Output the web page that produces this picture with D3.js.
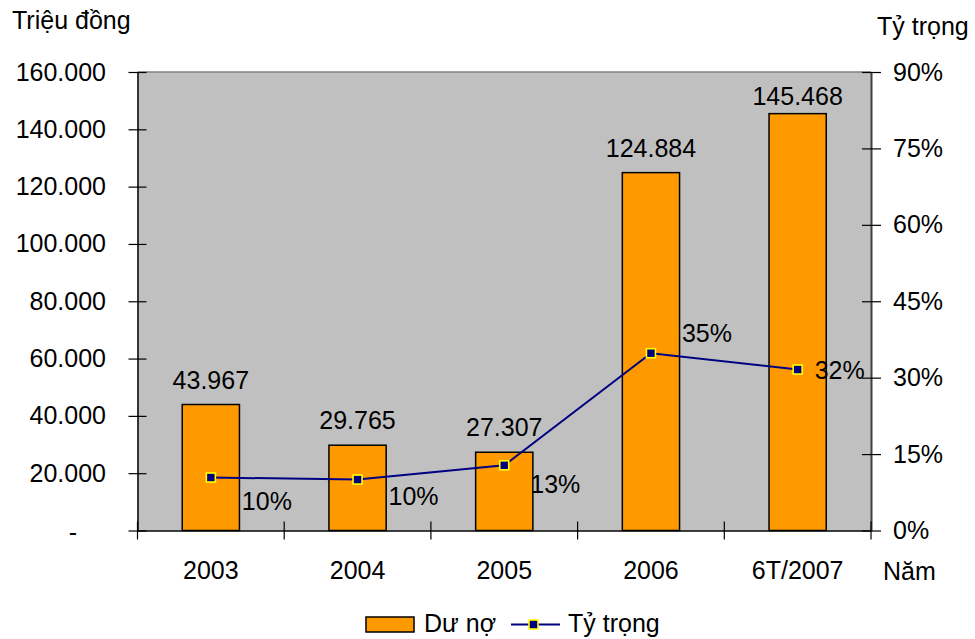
<!DOCTYPE html>
<html>
<head>
<meta charset="utf-8">
<script src="https://cdn.jsdelivr.net/npm/d3@7"></script>
<style>
  html, body { margin: 0; padding: 0; background: #fff; }
  svg text { font-family: "Liberation Sans", Arial, sans-serif; fill: #000; }
</style>
</head>
<body>
<svg id="chart" width="975" height="639"></svg>
<script>
// ---- data ----
const categories = ["2003", "2004", "2005", "2006", "6T/2007"];
const duNo = [43967, 29765, 27307, 124884, 145468];          // Dư nợ (triệu đồng)
const tyTrong = [10.4, 10.0, 12.8, 34.8, 31.6];             // Tỷ trọng (%)
const tyTrongLabels = ["10%", "10%", "13%", "35%", "32%"];
const leftTicks = [0, 20000, 40000, 60000, 80000, 100000, 120000, 140000, 160000];
const rightTicks = [0, 15, 30, 45, 60, 75, 90];

// label offsets for percentage labels (layout, px)
const pctLabelDx = [31, 31, 26, 31, 17];
const pctLabelDy = [32, 25, 28, -11, 9];

const W = 975, H = 639;
const margin = { left: 137.5, right: 975 - 871, top: 72, bottom: 639 - 530.5 };
const svg = d3.select("#chart");
const FS = 25;

const x = d3.scaleBand().domain(categories).range([margin.left, W - margin.right]).paddingInner(0).paddingOuter(0);
const yL = d3.scaleLinear().domain([0, 160000]).range([H - margin.bottom, margin.top]);
const yR = d3.scaleLinear().domain([0, 90]).range([H - margin.bottom, margin.top]);

const fmtNum = v => v === 0 ? "-" : d3.format(",")(v).replace(/,/g, ".");

// plot background
svg.append("rect")
  .attr("x", margin.left).attr("y", margin.top)
  .attr("width", W - margin.right - margin.left)
  .attr("height", H - margin.bottom - margin.top)
  .attr("fill", "#C0C0C0");
// top border
svg.append("line")
  .attr("x1", margin.left).attr("x2", W - margin.right)
  .attr("y1", margin.top).attr("y2", margin.top)
  .attr("stroke", "#808080").attr("stroke-width", 1.5);

// bars
const barW = x.bandwidth() * 0.39;
svg.append("g").selectAll("rect").data(duNo).join("rect")
  .attr("x", (d, i) => x(categories[i]) + x.bandwidth() / 2 - barW / 2)
  .attr("y", d => yL(d))
  .attr("width", barW)
  .attr("height", d => yL(0) - yL(d))
  .attr("fill", "#FF9900")
  .attr("stroke", "#000").attr("stroke-width", 1.5);

// bar labels
svg.append("g").selectAll("text").data(duNo).join("text")
  .attr("x", (d, i) => x(categories[i]) + x.bandwidth() / 2)
  .attr("y", d => Math.max(yL(d) - 16, 105))
  .attr("text-anchor", "middle")
  .attr("font-size", FS)
  .text(d => fmtNum(d));

// axes
const axL = d3.axisLeft(yL).tickValues(leftTicks).tickFormat(fmtNum).tickSizeInner(9).tickSizeOuter(0).tickPadding(22.5);
const gL = svg.append("g").attr("transform", `translate(${margin.left},0)`).call(axL);
const axR = d3.axisRight(yR).tickValues(rightTicks).tickFormat(d => d + "%").tickSizeInner(10).tickSizeOuter(0).tickPadding(12);
const gR = svg.append("g").attr("transform", `translate(${W - margin.right},0)`).call(axR);
const axB = d3.axisBottom(x).tickSize(0).tickPadding(30.5);
const gB = svg.append("g").attr("transform", `translate(0,${H - margin.bottom})`).call(axB);

[gL, gR, gB].forEach(g => {
  g.selectAll("text").attr("font-size", FS).attr("font-family", "Liberation Sans, Arial, sans-serif").attr("fill", "#000");
  g.selectAll(".tick line").attr("stroke", "#000").attr("stroke-width", 1.2);
});
// accounting-style dash for zero sits further left
gL.selectAll(".tick text").filter(d => d === 0).attr("dx", -29).attr("y", 2);
gL.select(".domain").attr("stroke", "#000").attr("stroke-width", 1.5);
gR.select(".domain").attr("stroke", "#404040").attr("stroke-width", 2);
gB.select(".domain").attr("stroke", "#000").attr("stroke-width", 1.5);
// crossing ticks on left/right axes
gL.selectAll(".tick line").attr("x1", 9);
gR.selectAll(".tick line").attr("x1", -9);
// category boundary ticks on bottom axis
const boundaries = d3.range(categories.length + 1).map(i => margin.left + i * x.bandwidth());
svg.append("g").selectAll("line").data(boundaries).join("line")
  .attr("x1", d => d).attr("x2", d => d)
  .attr("y1", H - margin.bottom - 9).attr("y2", H - margin.bottom + 9)
  .attr("stroke", "#000").attr("stroke-width", 1.2);

// line series
const cx = i => x(categories[i]) + x.bandwidth() / 2;
const line = d3.line().x((d, i) => cx(i)).y(d => yR(d));
svg.append("path").datum(tyTrong)
  .attr("d", line).attr("fill", "none")
  .attr("stroke", "#000080").attr("stroke-width", 2);
svg.append("g").selectAll("rect").data(tyTrong).join("rect")
  .attr("x", (d, i) => cx(i) - 4.5).attr("y", d => yR(d) - 4.5)
  .attr("width", 9).attr("height", 9)
  .attr("fill", "#000080").attr("stroke", "#FFFF00").attr("stroke-width", 1.6);

// percentage labels
svg.append("g").selectAll("text").data(tyTrong).join("text")
  .attr("x", (d, i) => cx(i) + pctLabelDx[i])
  .attr("y", (d, i) => yR(d) + pctLabelDy[i])
  .attr("font-size", FS)
  .text((d, i) => tyTrongLabels[i]);

// axis titles
svg.append("text").attr("x", 12).attr("y", 29).attr("font-size", FS).text("Triệu đồng");
svg.append("text").attr("x", 877).attr("y", 35).attr("font-size", FS).text("Tỷ trọng");
svg.append("text").attr("x", 883).attr("y", 580).attr("font-size", FS).text("Năm");

// legend
const lg = svg.append("g");
lg.append("rect").attr("x", 366).attr("y", 617).attr("width", 48).attr("height", 15)
  .attr("fill", "#FF9900").attr("stroke", "#000").attr("stroke-width", 1.5);
lg.append("text").attr("x", 424).attr("y", 632).attr("font-size", FS).text("Dư nợ");
lg.append("line").attr("x1", 511).attr("x2", 560).attr("y1", 624.5).attr("y2", 624.5)
  .attr("stroke", "#000080").attr("stroke-width", 2);
lg.append("rect").attr("x", 533.5 - 4.5).attr("y", 624.5 - 4.5).attr("width", 9).attr("height", 9)
  .attr("fill", "#000080").attr("stroke", "#FFFF00").attr("stroke-width", 1.6);
lg.append("text").attr("x", 568).attr("y", 632).attr("font-size", FS).text("Tỷ trọng");
</script>
</body>
</html>
